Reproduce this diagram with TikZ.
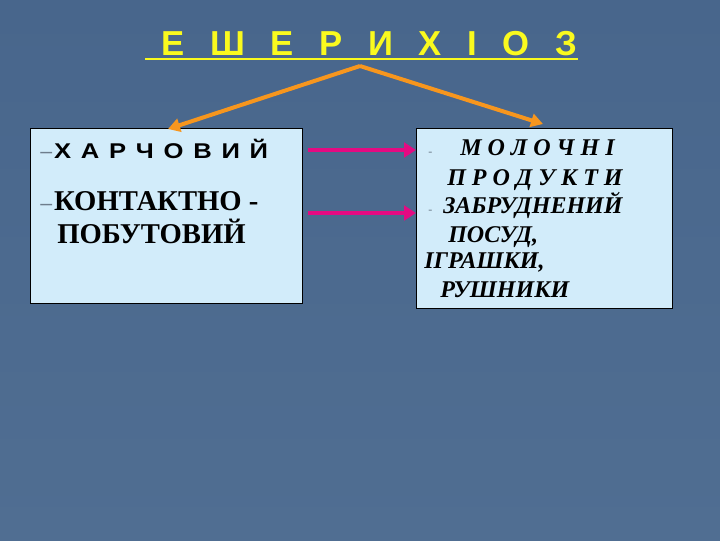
\documentclass[tikz,border=0pt]{standalone}
\usepackage{fontspec}
\setmainfont{Liberation Serif}
\newfontfamily\arialf{Liberation Sans}
\usetikzlibrary{arrows.meta}
\definecolor{bgtop}{RGB}{72,102,140}
\definecolor{bgbot}{RGB}{80,110,146}
\definecolor{boxfill}{RGB}{210,236,250}
\definecolor{ttl}{RGB}{250,250,30}
\definecolor{orng}{RGB}{247,150,30}
\definecolor{mgnt}{RGB}{228,10,130}
\definecolor{dashc}{RGB}{110,125,140}
\tikzset{
  panel/.style={draw=black, line width=0.9pt, fill=boxfill, anchor=north west, inner sep=0pt},
  txt/.style={inner sep=0pt, anchor=base west, text=black},
  orarrow/.style={draw=orng, line width=3pt, -{Triangle[length=9pt,width=10pt]}},
  mgarrow/.style={draw=mgnt, line width=3.5pt, -{Triangle[length=9pt,width=11pt]}},
}
\newcommand{\ldash}{{\color{dashc}\arialf\mdseries\fontsize{16}{16}\selectfont–}\kern1.5pt}
\begin{document}
\begin{tikzpicture}[x=0.75pt,y=-0.75pt]
\shade[top color=bgtop, bottom color=bgbot] (0,0) rectangle (720,540);
\useasboundingbox (0,0) rectangle (720,540);

% title
\node[txt, text=ttl, font=\arialf\bfseries\fontsize{26}{30}\selectfont] (title) at (161,55) {\spaceskip=0.74em\relax Е Ш Е Р И Х І О З};
\coordinate (ulA) at (145,59);
\coordinate (ulB) at (578,59);
\draw[draw=ttl, line width=2.2pt] (ulA) -- (ulB);

% boxes
\node[panel, minimum width=204pt, minimum height=131.25pt] (lbox) at (30,128) {};
\node[panel, minimum width=192pt, minimum height=135pt] (rbox) at (416,128) {};

% orange arrows
\coordinate (apex) at (360,66);
\coordinate (ltip) at (168,129);
\coordinate (rtip) at (543,124);
\draw[orarrow] (apex) -- (ltip);
\draw[orarrow] (apex) -- (rtip);

% left text
\node[txt, font=\arialf\bfseries\fontsize{16}{18}\selectfont] (l1) at (40,158) {\ldash\scalebox{1.2}[1]{\addfontfeature{LetterSpace=38}ХАРЧОВИЙ}};
\node[txt, font=\bfseries\fontsize{21.5}{25}\selectfont] (l2) at (40,210) {\ldash КОНТАКТНО -};
\node[txt, font=\bfseries\fontsize{21.5}{25}\selectfont] (l3) at (57,243) {ПОБУТОВИЙ};

% magenta arrows
\coordinate (m1s) at (308,150);
\coordinate (m2s) at (308,213);
\draw[mgarrow] (m1s) -- (m1s -| rbox.west);
\draw[mgarrow] (m2s) -- (m2s -| rbox.west);

% right text
\tikzset{rt/.style={txt, font=\bfseries\itshape\fontsize{18}{21}\selectfont}}
\node[txt, text=dashc, font=\fontsize{9}{9}\selectfont] (d1) at (428,155) {-};
\node[rt] (r1) at (460,155) {М О Л О Ч Н І};
\node[rt] (r2) at (447,185) {П Р О Д У К Т И};
\node[txt, text=dashc, font=\fontsize{9}{9}\selectfont] (d2) at (428,213) {-};
\node[rt] (r3) at (443,213) {ЗАБРУДНЕНИЙ};
\node[rt] (r4) at (448,242) {ПОСУД,};
\node[rt] (r5) at (424,268) {ІГРАШКИ,};
\node[rt] (r6) at (440,297) {РУШНИКИ};
\end{tikzpicture}
\end{document}
